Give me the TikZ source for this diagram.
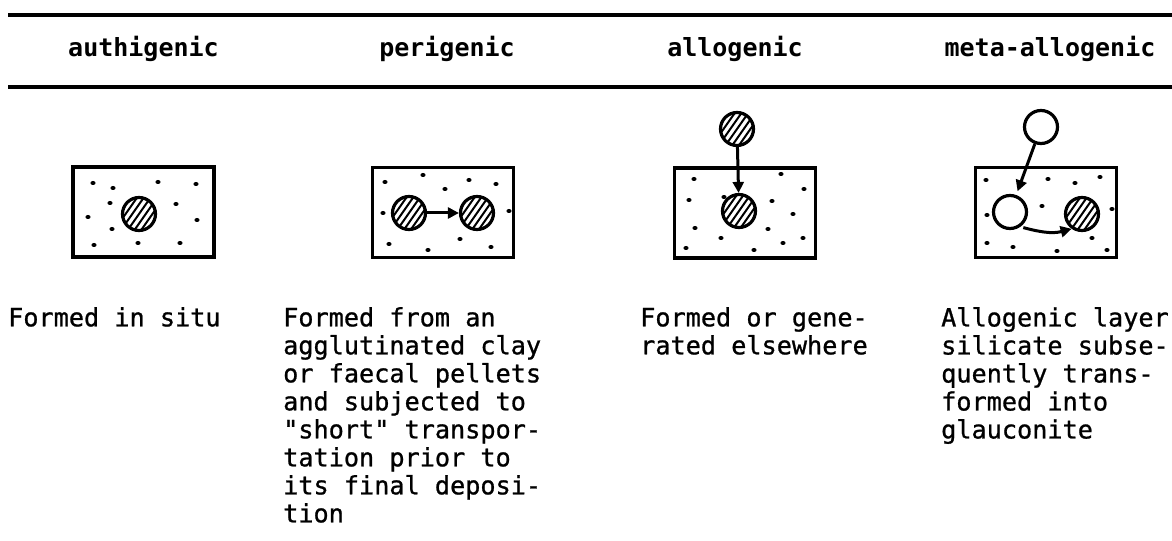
\documentclass[tikz,border=0pt]{standalone}
\usepackage{fontspec}
\setmonofont{DejaVu Sans Mono}
\newfontfamily\bodyfont[FakeBold=0.9]{DejaVu Sans Mono}
\usetikzlibrary{arrows.meta,calc}
\tikzset{
  rule/.style={line width=3.4bp},
  frame/.style={draw, line width=3.4bp, minimum width=141bp, minimum height=90bp, inner sep=0pt},
  grain/.style={circle, draw, line width=3.2bp, minimum size=33bp, inner sep=0pt},
  hatched/.style={grain, path picture={
      \foreach \d in {-11,-5.5,0,5.5,11}{
        \draw[line width=2bp]
          ($(path picture bounding box.center)+({\d*0.819+22*0.574},{\d*0.574-22*0.819})$) --
          ($(path picture bounding box.center)+({\d*0.819-22*0.574},{\d*0.574+22*0.819})$);
      }}},
  arr/.style={line width=3bp, -{Triangle[length=11bp,width=11bp]}},
  head/.style={font=\ttfamily\bfseries\fontsize{25bp}{28bp}\selectfont, anchor=base, inner sep=0pt},
  body/.style={font=\bodyfont\fontsize{25.2bp}{28bp}\selectfont, anchor=north west, align=left, inner sep=0pt},
}
\newcommand{\grit}[1]{\foreach \p in {#1}{\fill \p ellipse (2.6bp and 2bp);}}
\begin{document}
\begin{tikzpicture}[x=1bp,y=-1bp]
\useasboundingbox (0,0) rectangle (1172,541);
% rules
\coordinate (r1a) at (8,15); \coordinate (r1b) at (1172,15);
\coordinate (r2a) at (8,87); \coordinate (r2b) at (1172,87);
\draw[rule] (r1a) -- (r1b);
\draw[rule] (r2a) -- (r2b);
% headers
\node[head] (h1) at (143.5,57) {authigenic};
\node[head] (h2) at (447,57) {perigenic};
\node[head] (h3) at (735,57) {allogenic};
\node[head] (h4) at (1050,57) {meta-allogenic};
% boxes
\node[frame] (b1) at (143.5,212) {};
\node[frame] (b2) at (443,212.5) {};
\node[frame] (b3) at (745,213) {};
\node[frame] (b4) at (1046,212.5) {};
% grit
\grit{(93,183),(113,188),(158,182),(196,184),(110,203),(176,204),(88,217),(197,220),(112,229),(94,245),(138,243),(180,243)}
\grit{(385,182),(423,175),(445,189),(469,180),(496,184),(383,213),(509,211),(389,244),(428,250),(460,239),(491,247)}
\grit{(694,179),(781,174),(804,189),(689,200),(724,197),(772,201),(793,214),(695,228),(721,238),(768,229),(803,238),(783,243),(686,248),(754,250)}
\grit{(986,180),(1048,179),(1075,183),(1100,177),(987,215),(1042,206),(1112,209),(987,243),(1013,247),(1057,251),(1092,238),(1107,250)}
% grains
\node[hatched] (g1) at (139,214) {};
\node[hatched] (p1) at (409,213) {};
\node[hatched] (p2) at (477,213) {};
\node[hatched] (a0) at (737,129) {};
\node[hatched] (a1) at (739,211) {};
\node[grain] (m0) at (1041,127) {};
\node[grain] (m1) at (1010,212) {};
\node[hatched] (m2) at (1082,214) {};
% arrows
\draw[arr] (p1) -- (p2);
\draw[arr] (a0) -- (a1);
\draw[arr, shorten >=4bp] (m0) -- (m1);
\draw[arr, shorten <=3bp] (m1.-55) to[out=-15,in=195] (m2.235);
% texts
\node[body] (t1) at (8,307) {Formed in situ};
\node[body] (t2) at (283,307) {Formed from an\\agglutinated clay\\or faecal pellets\\and subjected to\\"short" transpor-\\tation prior to\\its final deposi-\\tion};
\node[body] (t3) at (640,307) {Formed or gene-\\rated elsewhere};
\node[body] (t4) at (941,307) {Allogenic layer\\silicate subse-\\quently trans-\\formed into\\glauconite};
\end{tikzpicture}
\end{document}
